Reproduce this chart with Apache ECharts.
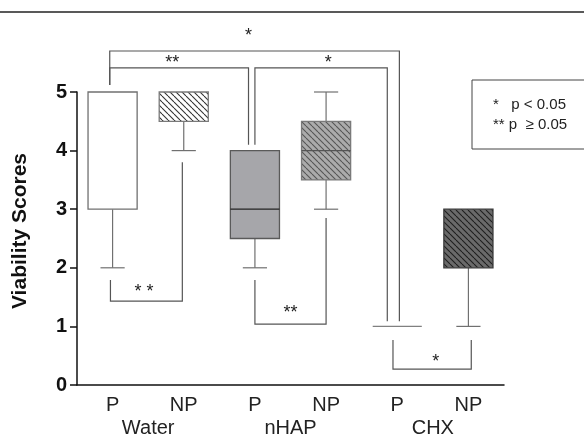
<!DOCTYPE html>
<html>
<head>
<meta charset="utf-8">
<script src="https://cdn.jsdelivr.net/npm/echarts@6/dist/echarts.min.js"></script>
<style>
  html, body { margin: 0; padding: 0; background: #fff; }
  #chart { width: 584px; height: 438px; }
</style>
</head>
<body>
<div id="chart"></div>
<script>
  // box plot values, one entry per category
  var categories = ['P', 'NP', 'P', 'NP', 'P', 'NP'];
  var groups = ['Water', 'nHAP', 'CHX'];
  var mins    = [2, 4,   2,   3,   1, 1];
  var q1s     = [3, 4.5, 2.5, 3.5, 1, 2];
  var medians = [3, 5,   3,   4,   1, 3];
  var q3s     = [5, 5,   4,   4.5, 1, 3];
  var maxs    = [5, 5,   4,   5,   1, 3];
  var yTicks  = [0, 1, 2, 3, 4, 5];

  // significance brackets (x in category units, y in score units)
  var bracketX1    = [-0.04, -0.04, 2.0,  -0.03, 2.0,  3.94];
  var bracketY1    = [5.12,  5.12,  4.10, 1.79,  1.79, 0.77];
  var bracketX2    = [4.03,  1.91,  3.86, 0.98,  3.0,  5.04];
  var bracketY2    = [1.09,  4.10,  1.09, 3.80,  2.85, 0.77];
  var bracketBar   = [5.70,  5.41,  5.41, 1.43,  1.04, 0.27];
  var bracketText  = ['*',   '**',  '*',  '* *', '**', '*'];
  var bracketTextX = [1.91,  0.84,  3.03, 0.44,  2.5,  4.54];
  var bracketTextY = [5.95,  5.50,  5.50, 1.59,  1.22, 0.40];

  var font = "'Liberation Sans', Arial, sans-serif";
  var narrow = "'Liberation Sans Narrow', 'Liberation Sans', Arial, sans-serif";

  function hatch(bg, fg) {
    var s = 6;
    var c = document.createElement('canvas');
    c.width = s; c.height = s;
    var ctx = c.getContext('2d');
    ctx.fillStyle = bg;
    ctx.fillRect(0, 0, s, s);
    ctx.strokeStyle = fg;
    ctx.lineWidth = 1.1;
    [-s, 0, s].forEach(function (k) {
      ctx.beginPath();
      ctx.moveTo(k, 0);
      ctx.lineTo(k + s, s);
      ctx.stroke();
    });
    return { image: c, repeat: 'repeat' };
  }

  var boxFill = ['#ffffff', hatch('#ffffff', '#333333'), '#a6a6aa',
                 hatch('#ababab', '#555555'), '#ffffff', hatch('#6a6a6a', '#1e1e1e')];
  var boxStroke = ['#707070', '#7a7a7a', '#5a5a5a', '#7a7a7a', '#808080', '#3a3a3a'];
  var medianStroke = ['#333', '#333', '#222', '#555', '#333', '#333'];

  var chart = echarts.init(document.getElementById('chart'));

  var option = {
    animation: false,
    grid: { left: 77, right: 80, top: 92, bottom: 53 },
    xAxis: [
      {
        type: 'category',
        data: categories,
        axisLine: { lineStyle: { color: '#111', width: 1.5 } },
        axisTick: { alignWithLabel: true, length: 7, lineStyle: { color: '#111', width: 1.5 } },
        axisLabel: { color: '#222', fontSize: 20, fontFamily: narrow, margin: 10 }
      },
      {
        type: 'category',
        data: groups,
        position: 'bottom',
        axisLine: { show: false },
        axisTick: { show: false },
        axisLabel: { color: '#222', fontSize: 20, fontFamily: narrow, margin: 33 }
      }
    ],
    yAxis: {
      type: 'value',
      min: 0,
      max: 5,
      interval: 1,
      splitLine: { show: false },
      axisLine: { show: true, lineStyle: { color: '#111', width: 1.5 } },
      axisTick: { show: true, length: 7, lineStyle: { color: '#111', width: 1.5 } },
      axisLabel: {
        color: '#111', fontSize: 20, fontWeight: 'bold', fontFamily: font, margin: 10,
        formatter: function (v) { return yTicks.indexOf(v) >= 0 ? String(v) : ''; }
      }
    },
    graphic: [
      { type: 'line', shape: { x1: 0, y1: 12, x2: 584, y2: 12 }, style: { stroke: '#222', lineWidth: 1.5 } },
      {
        type: 'text', x: 20, y: 231, rotation: Math.PI / 2,
        style: { text: 'Viability Scores', fontSize: 21, fontWeight: 'bold', fontFamily: font,
                 fill: '#111', align: 'center', verticalAlign: 'middle' }
      },
      { type: 'rect', shape: { x: 472, y: 80, width: 120, height: 69 },
        style: { fill: 'none', stroke: '#444', lineWidth: 1 } },
      { type: 'text', x: 493, y: 105,
        style: { text: '*   p < 0.05', fontSize: 15, fontFamily: font, fill: '#222', verticalAlign: 'middle' } },
      { type: 'text', x: 493, y: 125,
        style: { text: '** p  \u2265 0.05', fontSize: 15, fontFamily: font, fill: '#222', verticalAlign: 'middle' } }
    ],
    series: [
      {
        type: 'custom',
        silent: true,
        clip: false,
        data: categories.map(function (c, i) {
          return [i, mins[i], q1s[i], medians[i], q3s[i], maxs[i]];
        }),
        encode: { x: 0, y: [1, 2, 3, 4, 5] },
        renderItem: function (params, api) {
          var i = params.dataIndex;
          var x = api.coord([i, 0])[0];
          var band = api.size([1, 0])[0];
          var half = band * 0.345;
          var cap = band * 0.17;
          var yMin = api.coord([i, api.value(1)])[1];
          var yQ1 = api.coord([i, api.value(2)])[1];
          var yMed = api.coord([i, api.value(3)])[1];
          var yQ3 = api.coord([i, api.value(4)])[1];
          var yMax = api.coord([i, api.value(5)])[1];
          var wStyle = { stroke: '#707070', lineWidth: 1.2 };
          var kids = [];
          if (mins[i] < q1s[i]) {
            kids.push({ type: 'line', shape: { x1: x, y1: yQ1, x2: x, y2: yMin }, style: wStyle });
            kids.push({ type: 'line', shape: { x1: x - cap, y1: yMin, x2: x + cap, y2: yMin }, style: wStyle });
          }
          if (maxs[i] > q3s[i]) {
            kids.push({ type: 'line', shape: { x1: x, y1: yQ3, x2: x, y2: yMax }, style: wStyle });
            kids.push({ type: 'line', shape: { x1: x - cap, y1: yMax, x2: x + cap, y2: yMax }, style: wStyle });
          }
          kids.push({
            type: 'rect',
            shape: { x: x - half, y: yQ3, width: half * 2, height: yQ1 - yQ3 },
            style: { fill: boxFill[i], stroke: boxStroke[i], lineWidth: 1.3 }
          });
          if (medians[i] > q1s[i] && medians[i] < q3s[i]) {
            kids.push({ type: 'line', shape: { x1: x - half, y1: yMed, x2: x + half, y2: yMed },
                        style: { stroke: medianStroke[i], lineWidth: 1.3 } });
          }
          return { type: 'group', children: kids };
        }
      },
      {
        type: 'custom',
        silent: true,
        clip: false,
        data: bracketBar.map(function (b) { return [0, b]; }),
        encode: { x: 0, y: 1 },
        renderItem: function (params, api) {
          var i = params.dataIndex;
          var x0 = api.coord([0, 0])[0];
          var band = api.size([1, 0])[0];
          function px(p) { return x0 + p * band; }
          function py(v) { return api.coord([0, v])[1]; }
          var xa = px(bracketX1[i]), xb = px(bracketX2[i]);
          var yb = py(bracketBar[i]);
          return {
            type: 'group',
            children: [
              {
                type: 'polyline',
                shape: { points: [[xa, py(bracketY1[i])], [xa, yb], [xb, yb], [xb, py(bracketY2[i])]] },
                style: { stroke: '#555', fill: null, lineWidth: 1.2 }
              },
              {
                type: 'text',
                style: {
                  text: bracketText[i], x: px(bracketTextX[i]), y: py(bracketTextY[i]),
                  align: 'center', verticalAlign: 'middle',
                  fontSize: 18, fontFamily: font, fill: '#222'
                }
              }
            ]
          };
        }
      }
    ]
  };

  chart.setOption(option);
</script>
</body>
</html>
